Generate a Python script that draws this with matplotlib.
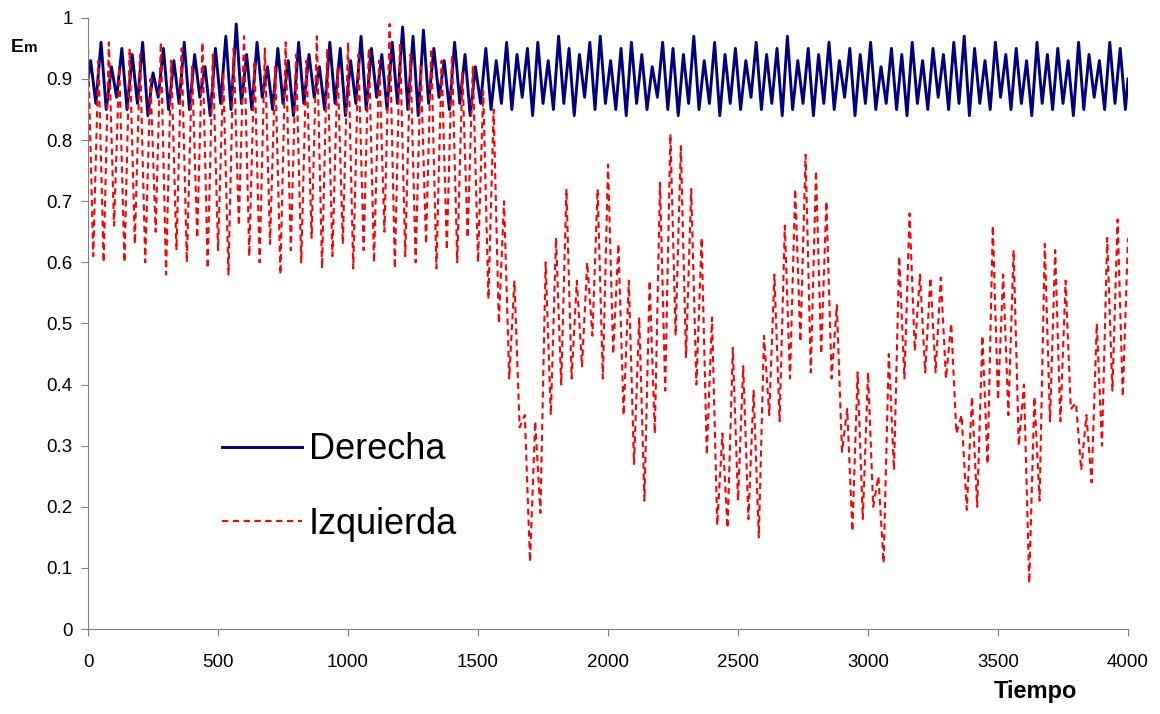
import numpy as np
import matplotlib
matplotlib.use("Agg")
import matplotlib.pyplot as plt
from matplotlib.ticker import FuncFormatter

plt.rcParams['font.family'] = ['Liberation Sans', 'DejaVu Sans']

# cycle length of the oscillation, extrema alternate every half cycle
T_CYCLE = 40.0

# Derecha: local maxima / minima per cycle
der_hi = [0.93, 0.96, 0.92, 0.95, 0.94, 0.96, 0.91, 0.95, 0.93, 0.96,
          0.94, 0.92, 0.95, 0.97, 0.99, 0.94, 0.96, 0.92, 0.95, 0.93,
          0.96, 0.94, 0.92, 0.96, 0.95, 0.93, 0.97, 0.95, 0.94, 0.96,
          0.985, 0.97, 0.98, 0.95, 0.93, 0.96, 0.94, 0.92, 0.95, 0.93,
          0.96, 0.94, 0.95, 0.96, 0.93, 0.97, 0.95, 0.94, 0.96, 0.97,
          0.93, 0.95, 0.96, 0.94, 0.92, 0.96, 0.95, 0.94, 0.97, 0.93,
          0.96, 0.94, 0.95, 0.93, 0.96, 0.94, 0.95, 0.97, 0.93, 0.95,
          0.94, 0.96, 0.93, 0.95, 0.94, 0.96, 0.92, 0.95, 0.94, 0.96,
          0.93, 0.95, 0.94, 0.96, 0.97, 0.95, 0.93, 0.96, 0.94, 0.95,
          0.93, 0.96, 0.94, 0.95, 0.93, 0.96, 0.94, 0.93, 0.96, 0.95]
der_lo = [0.86, 0.85, 0.87, 0.85, 0.86, 0.84, 0.87, 0.85, 0.86, 0.85,
          0.87, 0.84, 0.86, 0.85, 0.86, 0.85, 0.87, 0.85, 0.86, 0.84,
          0.86, 0.87, 0.85, 0.86, 0.84, 0.86, 0.85, 0.87, 0.85, 0.86,
          0.85, 0.84, 0.86, 0.87, 0.85, 0.86, 0.84, 0.86, 0.85, 0.86,
          0.85, 0.87, 0.84, 0.86, 0.85, 0.86, 0.84, 0.87, 0.85, 0.86,
          0.85, 0.84, 0.86, 0.85, 0.87, 0.85, 0.84, 0.86, 0.85, 0.86,
          0.84, 0.86, 0.85, 0.87, 0.85, 0.86, 0.84, 0.85, 0.86, 0.84,
          0.86, 0.85, 0.87, 0.84, 0.86, 0.85, 0.86, 0.85, 0.84, 0.86,
          0.85, 0.87, 0.85, 0.86, 0.84, 0.86, 0.85, 0.87, 0.85, 0.86,
          0.84, 0.86, 0.85, 0.86, 0.84, 0.85, 0.87, 0.85, 0.86, 0.85]
der_start, der_end = 0.90, 0.90

# Izquierda: local maxima / minima per cycle
izq_hi = [0.95, 0.93, 0.96, 0.92, 0.95, 0.94, 0.90, 0.96, 0.93, 0.95,
          0.92, 0.96, 0.94, 0.91, 0.95, 0.97, 0.93, 0.95, 0.92, 0.96,
          0.94, 0.93, 0.97, 0.95, 0.92, 0.96, 0.94, 0.95, 0.93, 0.99,
          0.96, 0.94, 0.92, 0.95, 0.93, 0.94, 0.91, 0.92, 0.88, 0.85,
          0.70, 0.57, 0.35, 0.34, 0.60, 0.64, 0.72, 0.57, 0.60, 0.72,
          0.76, 0.63, 0.57, 0.51, 0.57, 0.73, 0.81, 0.79, 0.72, 0.64,
          0.51, 0.32, 0.46, 0.43, 0.39, 0.48, 0.58, 0.66, 0.72, 0.776,
          0.75, 0.70, 0.53, 0.36, 0.42, 0.42, 0.25, 0.45, 0.61, 0.68,
          0.58, 0.575, 0.575, 0.50, 0.35, 0.38, 0.48, 0.66, 0.58, 0.62,
          0.40, 0.38, 0.63, 0.62, 0.57, 0.37, 0.35, 0.50, 0.64, 0.67]
izq_lo = [0.61, 0.60, 0.66, 0.60, 0.63, 0.60, 0.65, 0.58, 0.62, 0.60,
          0.64, 0.59, 0.62, 0.58, 0.66, 0.61, 0.60, 0.63, 0.58, 0.62,
          0.60, 0.64, 0.59, 0.61, 0.63, 0.59, 0.62, 0.60, 0.65, 0.59,
          0.61, 0.60, 0.63, 0.59, 0.62, 0.60, 0.64, 0.60, 0.54, 0.50,
          0.41, 0.33, 0.11, 0.19, 0.35, 0.40, 0.41, 0.43, 0.48, 0.41,
          0.45, 0.35, 0.27, 0.21, 0.32, 0.39, 0.48, 0.445, 0.40, 0.285,
          0.17, 0.165, 0.21, 0.18, 0.15, 0.35, 0.34, 0.41, 0.47, 0.42,
          0.45, 0.41, 0.29, 0.16, 0.18, 0.20, 0.108, 0.26, 0.41, 0.455,
          0.42, 0.42, 0.41, 0.32, 0.195, 0.20, 0.27, 0.375, 0.35, 0.30,
          0.075, 0.21, 0.34, 0.34, 0.36, 0.26, 0.24, 0.30, 0.39, 0.38]
izq_end = 0.64


def series(hi, lo, first, last, t0):
    """interleave maxima and minima on the time axis"""
    n = len(hi)
    t = np.empty(2 * n); v = np.empty(2 * n)
    t[0::2] = np.arange(n) * T_CYCLE + t0
    t[1::2] = np.arange(n) * T_CYCLE + t0 + T_CYCLE / 2
    v[0::2] = hi; v[1::2] = lo
    if first is not None:
        t = np.r_[0.0, t]; v = np.r_[first, v]
    return np.r_[t, n * T_CYCLE], np.r_[v, last]


td, vd = series(der_hi, der_lo, der_start, der_end, 10.0)
ti, vi = series(izq_hi, izq_lo, None, izq_end, 0.0)

fig = plt.figure(figsize=(11.6, 7.14), dpi=100)
ax = fig.add_axes([0.0759, 0.119, 0.8965, 0.856])
ax.plot(td, vd, color="#000080", lw=2.1, label="Derecha")
ax.plot(ti, vi, color="#ff0000", lw=1.5, dashes=(3, 2.2), label="Izquierda")

ax.set_xlim(0, 4000); ax.set_ylim(0, 1)
ax.set_xticks(np.arange(0, 4001, 500)); ax.set_yticks(np.arange(0, 1.01, 0.1))
ax.yaxis.set_major_formatter(FuncFormatter(lambda v, p: f"{v:g}"))
for s in ("top", "right"): ax.spines[s].set_visible(False)
for s in ("left", "bottom"): ax.spines[s].set_color("#808080")
ax.tick_params(labelsize=13.5, length=5, color="#808080", pad=6)
ax.tick_params(axis="x", pad=13)

leg = ax.legend(loc="upper left", bbox_to_anchor=(0.129, 0.322), frameon=False,
                borderpad=0, borderaxespad=0, fontsize=26, handlelength=2.2,
                labelspacing=1.1, handletextpad=0.2)

fig.text(0.009, 0.927, "E", fontsize=14, fontweight="bold")
fig.text(0.021, 0.927, "m", fontsize=11, fontweight="bold")
fig.text(0.857, 0.022, "Tiempo", fontsize=17, fontweight="bold")

fig.savefig("out.png", dpi=100)
